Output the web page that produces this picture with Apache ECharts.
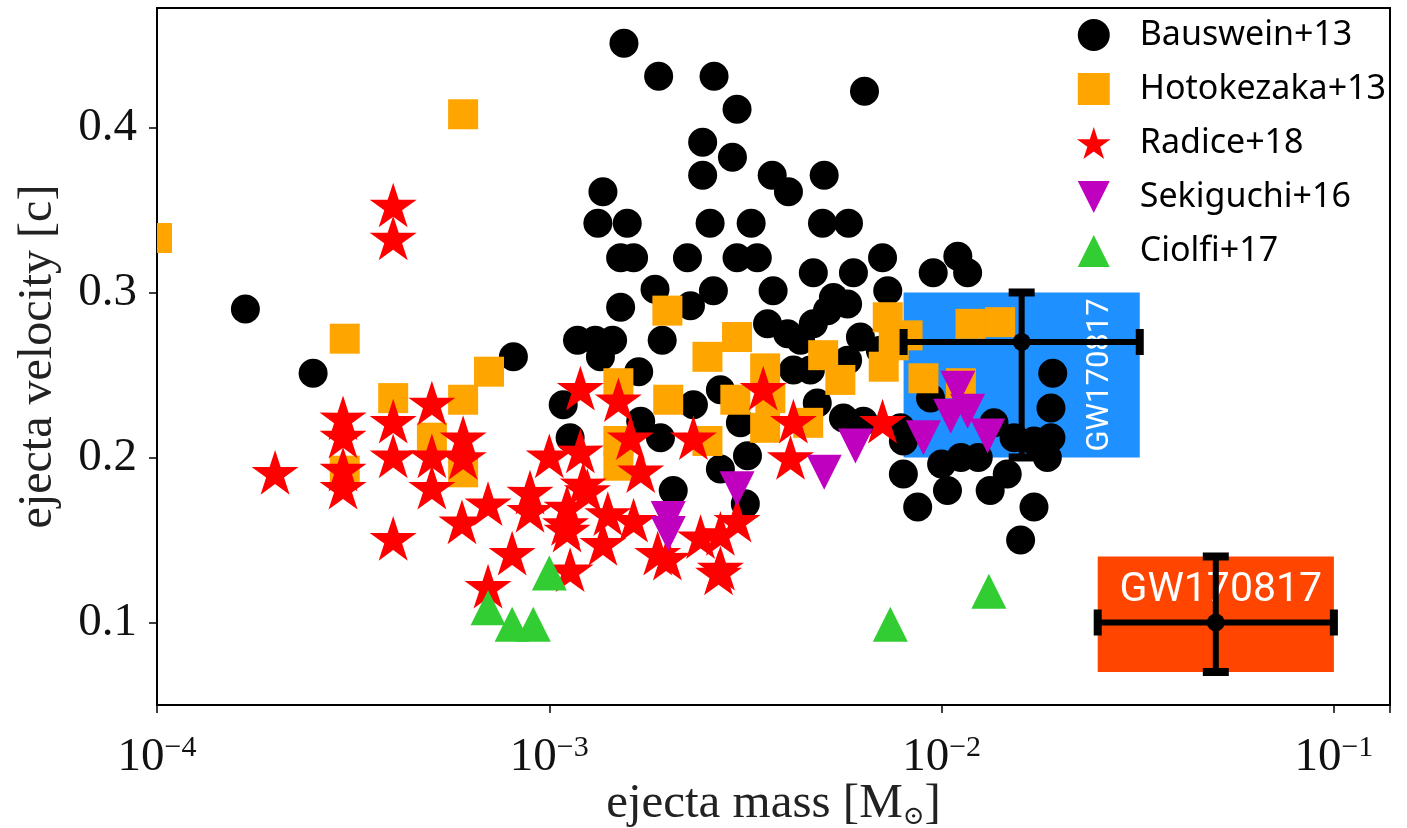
<!DOCTYPE html>
<html><head><meta charset="utf-8">
<script src="https://cdn.jsdelivr.net/npm/echarts@6/dist/echarts.min.js"></script>
<style>html,body{margin:0;padding:0;background:#fff}#c{width:1407px;height:828px}</style>
</head><body><div id="c"></div>
<script>
// ---- data: [ejecta mass (Msun), ejecta velocity (c)] ----
const bauswein = [
[1.68e-4,0.290],[2.50e-4,0.251],[8.1e-4,0.261],
[1.55e-3,0.451],[1.90e-3,0.431],[2.63e-3,0.431],[3.01e-3,0.411],[6.36e-3,0.422],
[2.46e-3,0.391],[2.93e-3,0.382],[2.46e-3,0.371],[3.70e-3,0.371],[4.07e-3,0.361],[5.02e-3,0.371],[1.37e-3,0.361],
[1.33e-3,0.342],[1.58e-3,0.342],[2.57e-3,0.342],[3.27e-3,0.342],[4.97e-3,0.342],[5.79e-3,0.342],
[1.52e-3,0.321],[1.64e-3,0.321],[2.25e-3,0.321],[3.01e-3,0.321],[3.39e-3,0.321],[7.07e-3,0.321],[1.10e-2,0.322],[1.165e-2,0.312],[9.52e-3,0.312],
[1.86e-3,0.302],[2.62e-3,0.301],[3.72e-3,0.301],[4.71e-3,0.312],[5.96e-3,0.312],[7.29e-3,0.301],[5.30e-3,0.297],
[1.52e-3,0.291],[2.29e-3,0.292],
[1.18e-3,0.271],[1.31e-3,0.271],[1.45e-3,0.271],[1.94e-3,0.271],
[3.60e-3,0.281],[4.05e-3,0.275],[4.71e-3,0.281],[4.37e-3,0.271],[5.12e-3,0.289],[5.76e-3,0.293],[6.21e-3,0.273],[6.98e-3,0.265],
[4.63e-3,0.253],[5.76e-3,0.259],[2.73e-3,0.241],[3.07e-3,0.221],[4.82e-3,0.233],[5.62e-3,0.224],[6.32e-3,0.222],[7.86e-3,0.218],[9.37e-3,0.236],
[1.085e-3,0.232],[1.13e-3,0.212],[1.35e-3,0.261],[1.69e-3,0.252],[2.33e-3,0.232],[1.71e-3,0.222],[1.92e-3,0.212],
[3.20e-3,0.201],[2.73e-3,0.193],[2.07e-3,0.180],[3.16e-3,0.172],[4.19e-3,0.253],
[1.92e-2,0.251],[1.90e-2,0.230],[1.90e-2,0.212],[1.86e-2,0.200],[1.36e-2,0.221],[1.53e-2,0.212],[1.72e-2,0.210],
[7.99e-3,0.210],[7.99e-3,0.190],[8.69e-3,0.170],[1.0e-2,0.196],[1.12e-2,0.200],[1.035e-2,0.180],[1.33e-2,0.180],[1.24e-2,0.200],[1.47e-2,0.190],[1.72e-2,0.170],[1.59e-2,0.150]
];
const hotokezaka = [
[1.0e-4,0.333],[6.03e-4,0.408],[3.01e-4,0.272],
[7.02e-4,0.252],[6.03e-4,0.235],[4.0e-4,0.236],[5.02e-4,0.212],[6.03e-4,0.191],[3.01e-4,0.192],
[2.0e-3,0.289],[3.01e-3,0.273],[2.53e-3,0.261],[3.55e-3,0.254],[4.99e-3,0.262],[5.52e-3,0.247],
[7.29e-3,0.285],[7.55e-3,0.268],[8.19e-3,0.274],[7.12e-3,0.255],[8.99e-3,0.248],[1.12e-2,0.245],[1.185e-2,0.281],[1.41e-2,0.282],
[1.50e-3,0.245],[1.50e-3,0.210],[1.50e-3,0.195],[2.01e-3,0.235],[2.98e-3,0.235],[3.55e-3,0.218],[2.53e-3,0.210],[4.57e-3,0.221],[3.66e-3,0.236]
];
const radice = [
[4.0e-4,0.353],[4.0e-4,0.333],[2.0e-4,0.191],
[2.98e-4,0.224],[2.98e-4,0.213],[2.98e-4,0.193],[2.98e-4,0.182],
[4.0e-4,0.222],[4.0e-4,0.201],[4.0e-4,0.151],
[5.02e-4,0.233],[5.02e-4,0.201],[5.02e-4,0.182],
[6.03e-4,0.212],[6.03e-4,0.200],[5.99e-4,0.161],
[6.98e-4,0.172],[6.98e-4,0.122],[8.04e-4,0.142],[8.93e-4,0.179],[1.0e-3,0.201],
[1.10e-3,0.160],[1.20e-3,0.204],[1.20e-3,0.242],[1.13e-3,0.132],[1.22e-3,0.184],
[1.50e-3,0.235],[1.61e-3,0.212],[1.71e-3,0.192],[2.33e-3,0.212],
[8.93e-4,0.168],[1.11e-3,0.170],[1.11e-3,0.156],[1.25e-3,0.180],[1.41e-3,0.166],[1.37e-3,0.148],[1.64e-3,0.162],
[1.89e-3,0.142],[2.73e-3,0.133],[2.73e-3,0.154],[3.51e-3,0.242],[4.19e-3,0.222],[4.12e-3,0.200],[7.07e-3,0.222],
[2.0e-3,0.139],[2.43e-3,0.152],[3.01e-3,0.162],[2.70e-3,0.130]
];
const sekiguchi = [
[2.01e-3,0.163],[2.01e-3,0.154],[3.01e-3,0.181],[5.02e-3,0.191],[6.03e-3,0.207],
[8.99e-3,0.212],[1.10e-2,0.242],[1.165e-2,0.228],[1.31e-2,0.213],[1.055e-2,0.225]
];
const ciolfi = [
[6.98e-4,0.109],[8.04e-4,0.099],[9.1e-4,0.099],[1.0e-3,0.130],[7.4e-3,0.099],[1.32e-2,0.119]
];
// GW170817 regions: [massMin, massMax, velMin, velMax]
const gwBlueBox = [0.008, 0.032, 0.2, 0.3];
const gwRedBox = [0.025, 0.1, 0.07, 0.14];
// error bars: [mass, vel, massLo, massHi, velLo, velHi]
const gwBlueErr = [0.016, 0.27, 0.008, 0.032, 0.2, 0.3];
const gwRedErr = [0.05, 0.1, 0.025, 0.1, 0.07, 0.14];
const gwLabel = 'GW170817';
const seriesNames = ['Bauswein+13','Hotokezaka+13','Radice+18','Sekiguchi+16','Ciolfi+17'];
const yTicks = [0.1, 0.2, 0.3, 0.4];

// ---- chart ----
const SERIF = 'Liberation Serif';
const SANS = 'Noto Sans';
const STAR = 'path://M100,0L122.4,69.2L195.1,69.1L136.2,111.8L158.8,180.9L100,138.1L41.2,180.9L63.8,111.8L4.9,69.1L77.6,69.2Z';
const SQUARE = 'path://M0,0H10V10H0Z';
const TRI_UP = 'path://M5,0L10,10L0,10Z';
const TRI_DOWN = 'path://M0,0L10,0L5,10Z';
const legendIcons = ['circle', SQUARE, STAR, TRI_DOWN, TRI_UP];

const chart = echarts.init(document.getElementById('c'), null, {renderer:'canvas', width:1407, height:828});

function scatter(name, data, symbol, size, color, z) {
  return {type:'scatter', name, data, symbol, symbolSize:size, symbolKeepAspect:true,
    itemStyle:{color, opacity:1}, z, clip:true, silent:true, emphasis:{disabled:true}};
}
// squares drawn as a custom series so that marks on the plot edge are clipped like in the original
function squareSeries(name, data, size, color, z) {
  return {
    type:'custom', name, data, z, clip:true, silent:true,
    itemStyle:{color}, encode:{x:0, y:1},
    renderItem(params, api) {
      const p = api.coord([api.value(0), api.value(1)]);
      return {type:'rect', shape:{x:p[0]-size/2, y:p[1]-size/2, width:size, height:size}, style:{fill:color}};
    }
  };
}
function boxSeries(box, color, labelMode) {
  return {
    type:'custom', z:1, silent:true, clip:false, data:[box],
    renderItem(params, api) {
      const p1 = api.coord([api.value(0), api.value(3)]);
      const p2 = api.coord([api.value(1), api.value(2)]);
      const children = [{type:'rect', shape:{x:p1[0], y:p1[1], width:p2[0]-p1[0], height:p2[1]-p1[1]}, style:{fill:color}}];
      if (labelMode === 'vertical') {
        children.push({type:'text', x:p2[0]-40, y:(p1[1]+p2[1])/2, rotation:Math.PI/2,
          style:{text:gwLabel, fill:'#fff', fontSize:31, fontFamily:'Roboto', align:'center', verticalAlign:'middle'}});
      } else {
        children.push({type:'text', x:(p1[0]+p2[0])/2+5, y:p1[1]+34,
          style:{text:gwLabel, fill:'#fff', fontSize:41, fontFamily:'Roboto', align:'center', verticalAlign:'middle'}});
      }
      return {type:'group', children};
    }
  };
}
function errSeries(err) {
  return {
    type:'custom', z:20, silent:true, clip:false, data:[err],
    renderItem(params, api) {
      const c = api.coord([api.value(0), api.value(1)]);
      const l = api.coord([api.value(2), api.value(1)]);
      const r = api.coord([api.value(3), api.value(1)]);
      const b = api.coord([api.value(0), api.value(4)]);
      const t = api.coord([api.value(0), api.value(5)]);
      const cap = 13, ls = {stroke:'#000', lineWidth:6}, cs = {stroke:'#000', lineWidth:8};
      return {type:'group', children:[
        {type:'line', shape:{x1:l[0],y1:l[1],x2:r[0],y2:r[1]}, style:ls},
        {type:'line', shape:{x1:b[0],y1:b[1],x2:t[0],y2:t[1]}, style:ls},
        {type:'line', shape:{x1:l[0],y1:l[1]-cap,x2:l[0],y2:l[1]+cap}, style:cs},
        {type:'line', shape:{x1:r[0],y1:r[1]-cap,x2:r[0],y2:r[1]+cap}, style:cs},
        {type:'line', shape:{x1:b[0]-cap,y1:b[1],x2:b[0]+cap,y2:b[1]}, style:cs},
        {type:'line', shape:{x1:t[0]-cap,y1:t[1],x2:t[0]+cap,y2:t[1]}, style:cs},
        {type:'circle', shape:{cx:c[0], cy:c[1], r:9}, style:{fill:'#000'}}
      ]};
    }
  };
}

const option = {
  animation:false,
  backgroundColor:'#fff',
  grid:{left:157, top:8, right:17, bottom:123, containLabel:false, outerBoundsMode:'none',
    show:true, borderColor:'#000', borderWidth:2, backgroundColor:'transparent'},
  legend:{
    orient:'vertical', right:21, top:18, padding:0, itemWidth:82, itemHeight:32, itemGap:20,
    selectedMode:false, data:seriesNames.map((n, i) => ({name:n, icon:legendIcons[i]})),
    textStyle:{fontFamily:SANS, fontSize:34, color:'#000', lineHeight:32}
  },
  xAxis:{
    type:'log', logBase:10, min:1e-4, max:0.139,
    splitLine:{show:false}, minorTick:{show:false}, minorSplitLine:{show:false},
    axisLine:{show:true, lineStyle:{color:'#000', width:2}},
    axisTick:{show:true, inside:false, length:8, lineStyle:{color:'#000', width:1.5}},
    axisLabel:{
      margin:28, color:'#111', showMinLabel:true, showMaxLabel:true,
      formatter:(v)=>{ const lg = Math.log10(v); const e = Math.round(lg); if (Math.abs(lg-e) > 1e-6) return ''; return '{a|10}{b|' + (e<0?'\u2212':'') + Math.abs(e) + '}'; },
      rich:{a:{fontFamily:SERIF, fontSize:47, color:'#111', lineHeight:50}, b:{fontFamily:SERIF, fontSize:30, color:'#111', verticalAlign:'top', lineHeight:30}}
    },
    name:'ejecta mass [M{s|\u2299}]', nameLocation:'middle', nameGap:73, nameMoveOverlap:false,
    nameTextStyle:{fontFamily:SERIF, fontSize:49, color:'#222', lineHeight:52,
      rich:{s:{fontFamily:'DejaVu Serif', fontSize:26, color:'#222', verticalAlign:'bottom', lineHeight:26}}}
  },
  yAxis:{
    type:'value', min:0.05, max:0.4724,
    splitLine:{show:false},
    axisLine:{show:true, lineStyle:{color:'#000', width:2}},
    axisTick:{show:true, inside:false, length:8, lineStyle:{color:'#000', width:1.5}, customValues:yTicks},
    axisLabel:{margin:20, color:'#111', fontFamily:SERIF, fontSize:47, customValues:yTicks, formatter:(v)=>v.toFixed(1)},
    name:'ejecta velocity [c]', nameLocation:'middle', nameGap:95, nameMoveOverlap:false,
    nameTextStyle:{fontFamily:SERIF, fontSize:48, color:'#222'}
  },
  series:[
    boxSeries(gwBlueBox, '#1E90FF', 'vertical'),
    boxSeries(gwRedBox, '#FF4500', 'horizontal'),
    scatter(seriesNames[0], bauswein, 'circle', 29, '#000', 3),
    squareSeries(seriesNames[1], hotokezaka, 30, '#FFA500', 4),
    scatter(seriesNames[2], radice, STAR, 47, '#FF0000', 5),
    scatter(seriesNames[3], sekiguchi, TRI_DOWN, 35, '#BF00BF', 6),
    scatter(seriesNames[4], ciolfi, TRI_UP, 35, '#32CD32', 7),
    errSeries(gwBlueErr),
    errSeries(gwRedErr)
  ]
};
chart.setOption(option);
</script>
</body></html>
